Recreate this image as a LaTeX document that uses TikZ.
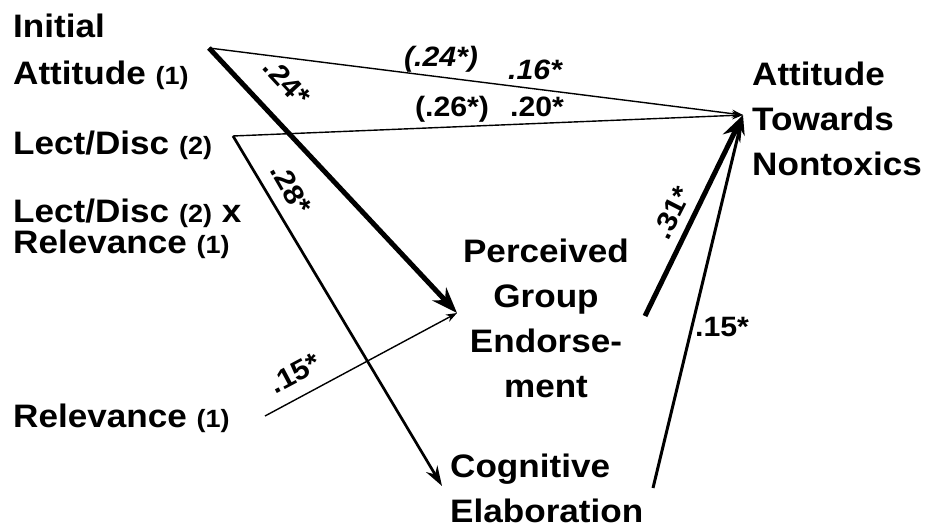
\documentclass[tikz,border=0pt]{standalone}
\usepackage{fontspec}
\setmainfont{Liberation Sans}[FakeStretch=1.08]
\usetikzlibrary{arrows.meta}
\newcommand{\measNo}[1]{{\fontsize{25}{25}\selectfont(#1)}}

\begin{document}
\begin{tikzpicture}[x=1pt, y=-1pt, >=Stealth,
  every node/.style={inner sep=0pt},
  var/.style={align=left, font=\bfseries\fontsize{32.5}{45}\selectfont},
  coef/.style={font=\bfseries\fontsize{28}{30}\selectfont},
  coef it/.style={font=\bfseries\itshape\fontsize{28}{30}\selectfont},
  path thin/.style={line width=1.4pt, -{Stealth[length=11pt, width=8pt]}},
  path mid/.style={line width=2.7pt, -{Stealth[length=20pt, width=13pt]}},
  path thick/.style={line width=5pt, -{Stealth[length=26pt, width=19pt]}}]
  \useasboundingbox (0,0) rectangle (952,526);

  \node[var, anchor=north west, font=\bfseries\fontsize{32.5}{47}\selectfont] (init) at (13,14)
    {Initial\\Attitude \measNo{1}};
  \node[var, anchor=north west] (lect) at (13,131) {Lect/Disc \measNo{2}};
  \node[var, anchor=north west, font=\bfseries\fontsize{32.5}{31}\selectfont] (lectRel) at (13,199)
    {Lect/Disc \measNo{2} x\\Relevance \measNo{1}};
  \node[var, anchor=north west] (relev) at (13,404) {Relevance \measNo{1}};
  \node[var, anchor=north west] (atn) at (752,62) {Attitude\\Towards\\Nontoxics};
  \node[var, align=center, anchor=north] (pge) at (546,239)
    {Perceived\\Group\hspace*{36pt}\\Endorse-\\ment};
  \node[var, anchor=north west] (cog) at (450,454) {Cognitive\\Elaboration};

  \coordinate (initOut) at (209,48);
  \coordinate (lectOut) at (233,136);
  \coordinate (relOut) at (265,416);
  \coordinate (pgeIn) at (457,313);
  \coordinate (pgeOut) at (645,316);
  \coordinate (cogIn) at (442,486);
  \coordinate (cogOut) at (653,488);
  \coordinate (atnIn) at (743,115);

  \draw[path thin] (initOut) -- (atnIn);
  \draw[path thin] (lectOut) -- (atnIn);
  \draw[path thick] (initOut) -- (pgeIn);
  \draw[path mid] (lectOut) -- (cogIn);
  \draw[path thin] (relOut) -- (pgeIn);
  \draw[path thick] (pgeOut) -- (atnIn);
  \draw[path mid, line width=3pt] (cogOut) -- (atnIn);

  \node[coef it, anchor=base] (cInitAtnTot) at (441,67) {(.24*)};
  \node[coef it, anchor=base] (cInitAtn) at (535,80) {.16*};
  \node[coef, anchor=base] (cLectAtnTot) at (452,117) {(.26*)};
  \node[coef, anchor=base] (cLectAtn) at (537,117) {.20*};
  \node[coef, rotate=-47] (cInitPge) at (287,82) {.24*};
  \node[coef, rotate=-60] (cLectCog) at (291,189) {.28*};
  \node[coef, rotate=28] (cRelPge) at (295,373) {.15*};
  \node[coef, rotate=63] (cPgeAtn) at (672,213) {.31*};
  \node[coef] (cCogAtn) at (722,327) {.15*};
\end{tikzpicture}
\end{document}
